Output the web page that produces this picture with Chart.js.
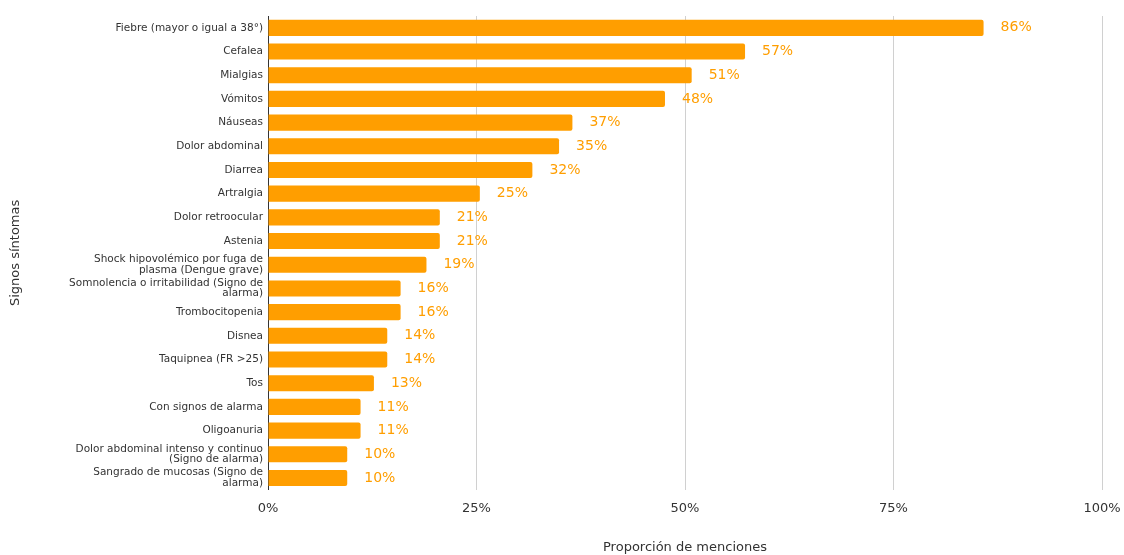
<!DOCTYPE html>
<html>
<head>
<meta charset="utf-8">
<script src="https://cdn.jsdelivr.net/npm/chart.js@4/dist/chart.umd.min.js"></script>
<style>
  body { margin: 0; background: #fff; }
</style>
</head>
<body>
<canvas id="chart" width="1124" height="555"></canvas>
<script>
const categories = [
  'Fiebre (mayor o igual a 38°)', 'Cefalea', 'Mialgias', 'Vómitos', 'Náuseas',
  'Dolor abdominal', 'Diarrea', 'Artralgia', 'Dolor retroocular', 'Astenia',
  ['Shock hipovolémico por fuga de', 'plasma (Dengue grave)'],
  ['Somnolencia o irritabilidad (Signo de', 'alarma)'],
  'Trombocitopenia', 'Disnea', 'Taquipnea (FR >25)', 'Tos', 'Con signos de alarma',
  'Oligoanuria',
  ['Dolor abdominal intenso y continuo', '(Signo de alarma)'],
  ['Sangrado de mucosas (Signo de', 'alarma)']
];
const values = [85.8, 57.2, 50.8, 47.6, 36.5, 34.9, 31.7, 25.4, 20.6, 20.6,
  19.0, 15.9, 15.9, 14.3, 14.3, 12.7, 11.1, 11.1, 9.5, 9.5];
const tickLabels = { 0: '0%', 25: '25%', 50: '50%', 75: '75%', 100: '100%' };

const barColor = '#FF9E00';
const font = '"DejaVu Sans", sans-serif';

const valueLabels = {
  id: 'valueLabels',
  afterDatasetsDraw(chart) {
    const ctx = chart.ctx;
    const meta = chart.getDatasetMeta(0);
    ctx.save();
    ctx.fillStyle = barColor;
    ctx.font = '14px ' + font;
    ctx.textBaseline = 'middle';
    meta.data.forEach((bar, i) => {
      ctx.fillText(Math.round(values[i]) + '%', bar.x + 17, bar.y);
    });
    ctx.restore();
  }
};

new Chart(document.getElementById('chart'), {
  type: 'bar',
  data: {
    labels: categories,
    datasets: [
      {
        data: values,
        backgroundColor: barColor,
        borderRadius: 2,
        borderSkipped: 'start',
        barPercentage: 0.68,
        categoryPercentage: 1,
      },
    ],
  },
  options: {
    indexAxis: 'y',
    responsive: false,
    animation: false,
    layout: { padding: { top: 16, right: 0, left: 4, bottom: 0 } },
    scales: {
      x: {
        min: 0,
        max: 100,
        afterFit: (scale) => { scale.paddingRight = 22; },
        ticks: {
          stepSize: 25,
          color: '#333',
          font: { size: 13, family: font },
          callback: (v) => tickLabels[v],
          padding: 11,
        },
        grid: { color: '#d0d0d0', drawTicks: false },
        border: { display: false },
        title: {
          display: true,
          text: 'Proporción de menciones',
          color: '#333',
          font: { size: 13, family: font },
          padding: { top: 12, bottom: 0 },
        },
      },
      y: {
        afterFit: (scale) => { scale.width = 264; },
        ticks: {
          autoSkip: false,
          color: '#333',
          font: { size: 10.5, family: font, lineHeight: 1.0 },
          padding: 5,
        },
        grid: { display: false, drawTicks: false },
        border: { color: '#333', width: 1 },
        title: {
          display: true,
          text: 'Signos síntomas',
          color: '#333',
          font: { size: 13, family: font },
          padding: { bottom: 6 },
        },
      },
    },
    plugins: {
      legend: { display: false },
      tooltip: { enabled: false },
    },
  },
  plugins: [valueLabels],
});
</script>
</body>
</html>
